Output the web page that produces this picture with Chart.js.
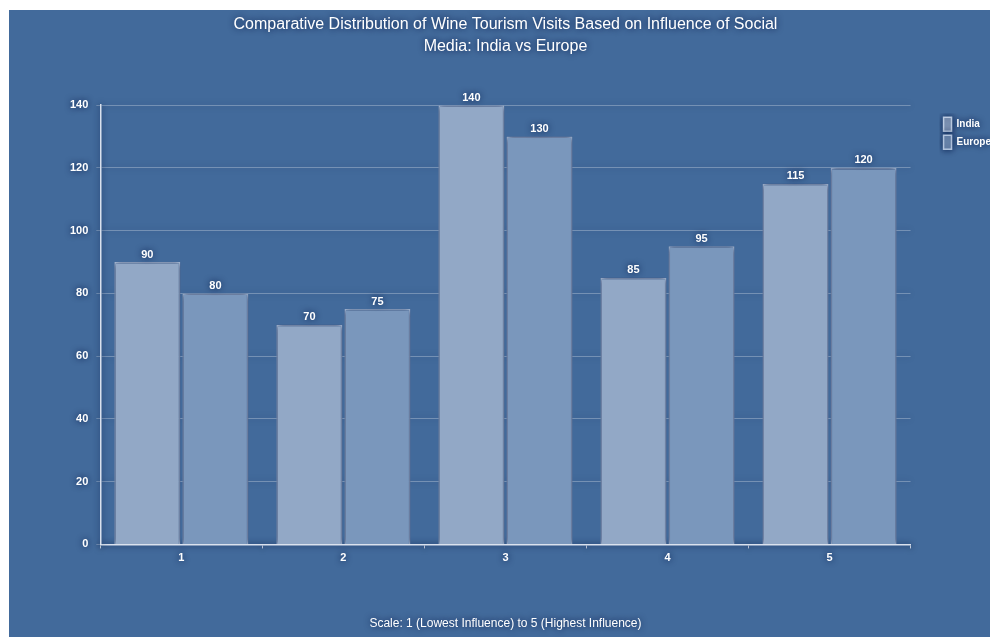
<!DOCTYPE html>
<html>
<head>
<meta charset="utf-8">
<script src="https://cdn.jsdelivr.net/npm/chart.js@4.4.0/dist/chart.umd.min.js"></script>
<style>
  html, body { margin: 0; padding: 0; background: #ffffff; }
  #wrap { position: absolute; left: 9px; top: 10px; width: 981px; height: 627px; background: #426a9b; }
</style>
</head>
<body>
<div id="wrap"><canvas id="chart" width="981" height="627"></canvas></div>
<script>
// Datos del gráfico
const categories = ['1', '2', '3', '4', '5'];
const indiaVisits = [90, 70, 140, 85, 115];
const europeVisits = [80, 75, 130, 95, 120];
const seriesNames = ['India', 'Europe'];

const textColor = '#ffffff';
const fontFamily = '"Liberation Sans", Arial, Helvetica, sans-serif';

// sombra oscura alrededor de todo, como en la imagen original
const glowPlugin = {
    id: 'glow',
    beforeDraw(chart) {
        chart.ctx.shadowColor = 'rgba(10, 30, 75, 0.95)';
        chart.ctx.shadowBlur = 6;
    }
};

// mover la leyenda a su sitio (a la derecha, a la altura del eje)
const legendPlace = {
    id: 'legendPlace',
    afterLayout(chart) {
        const lg = chart.legend;
        const w = lg.right - lg.left;
        lg.left = chart.chartArea.right + 29;
        lg.right = lg.left + w;
        lg.top = chart.chartArea.top + 8;
    }
};

// etiquetas con el valor encima de cada barra
const valueLabels = {
    id: 'valueLabels',
    afterDatasetsDraw(chart) {
        const ctx = chart.ctx;
        ctx.save();
        ctx.font = 'bold 11px ' + fontFamily;
        ctx.fillStyle = textColor;
        ctx.textAlign = 'center';
        ctx.textBaseline = 'bottom';
        chart.data.datasets.forEach((ds, i) => {
            chart.getDatasetMeta(i).data.forEach((bar, j) => {
                ctx.fillText(ds.data[j], bar.x, bar.y - 2);
            });
        });
        ctx.restore();
    }
};

const ctx = document.getElementById('chart').getContext('2d');
new Chart(ctx, {
    type: 'bar',
    data: {
        labels: categories,
        datasets: [
            {
                label: seriesNames[0],
                data: indiaVisits,
                backgroundColor: 'rgb(146, 168, 198)',
                borderColor: 'rgba(200, 214, 234, 0.9)',
                borderWidth: 1.5,
                categoryPercentage: 0.84,
                barPercentage: 0.97
            },
            {
                label: seriesNames[1],
                data: europeVisits,
                backgroundColor: 'rgb(122, 151, 188)',
                borderColor: 'rgba(190, 206, 230, 0.9)',
                borderWidth: 1.5,
                categoryPercentage: 0.84,
                barPercentage: 0.97
            }
        ]
    },
    options: {
        responsive: false,
        animation: false,
        layout: { padding: { left: 53, right: 18, top: 0, bottom: 2 } },
        plugins: {
            title: {
                display: true,
                fullSize: false,
                text: ['Comparative Distribution of Wine Tourism Visits Based on Influence of Social', 'Media: India vs Europe'],
                color: textColor,
                font: { family: fontFamily, size: 16, weight: 'normal', lineHeight: 1.35 },
                padding: { top: 4, bottom: 48 }
            },
            legend: {
                position: 'right',
                align: 'start',
                labels: {
                    color: textColor,
                    font: { family: fontFamily, size: 10, weight: 'bold' },
                    boxWidth: 8,
                    boxHeight: 14,
                    padding: 4
                }
            },
            tooltip: { enabled: false }
        },
        scales: {
            x: {
                grid: {
                    display: true,
                    drawOnChartArea: false,
                    color: 'rgba(225, 232, 242, 0.9)',
                    tickLength: 4
                },
                border: { color: 'rgba(225, 232, 242, 0.95)', width: 1.5 },
                ticks: {
                    color: textColor,
                    font: { family: fontFamily, size: 11, weight: 'bold' },
                    padding: 3
                },
                title: {
                    display: true,
                    text: 'Scale: 1 (Lowest Influence) to 5 (Highest Influence)',
                    color: textColor,
                    font: { family: fontFamily, size: 12 },
                    padding: { top: 49 }
                }
            },
            y: {
                min: 0,
                max: 140,
                ticks: {
                    stepSize: 20,
                    color: textColor,
                    font: { family: fontFamily, size: 11, weight: 'bold' },
                    padding: 8
                },
                grid: {
                    color: 'rgba(255, 255, 255, 0.28)',
                    tickLength: 4
                },
                border: { color: 'rgba(225, 232, 242, 0.95)', width: 1.5 }
            }
        }
    },
    plugins: [glowPlugin, legendPlace, valueLabels]
});
</script>
</body>
</html>
